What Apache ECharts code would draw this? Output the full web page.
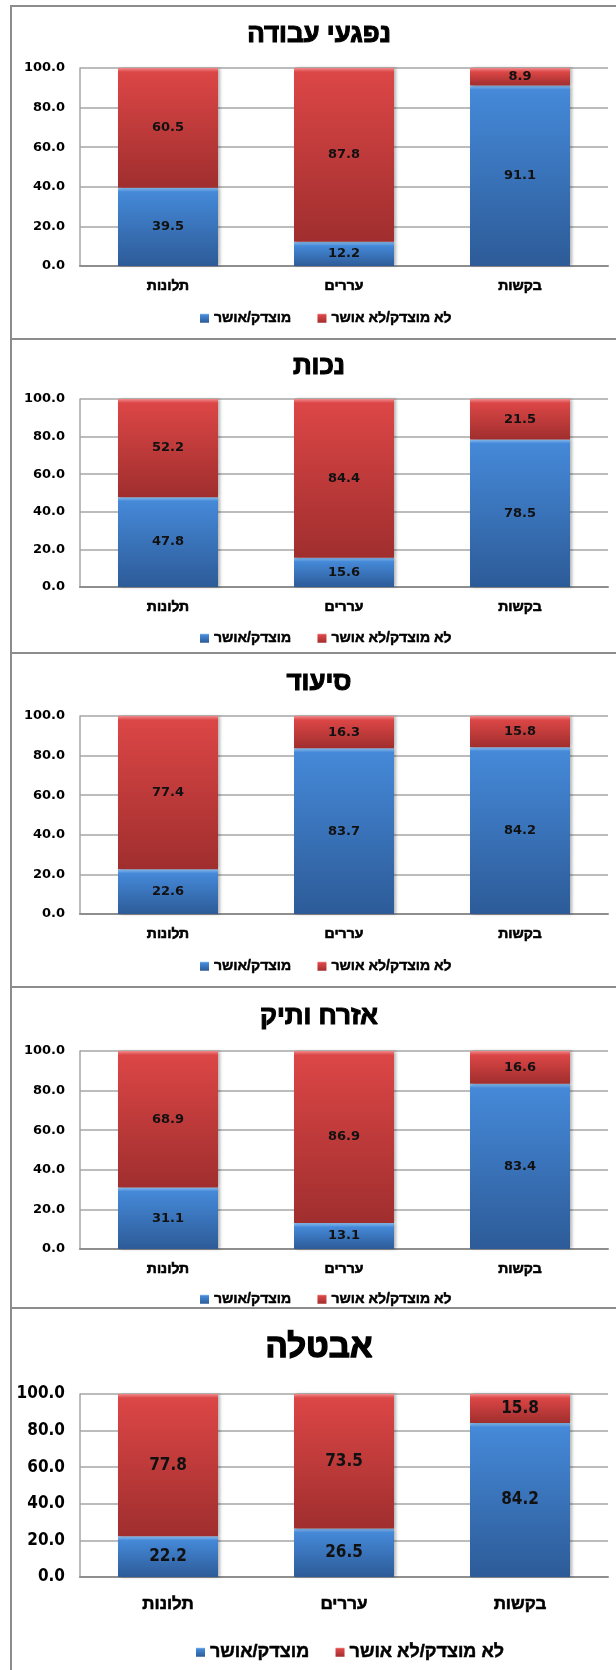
<!DOCTYPE html>
<html>
<head>
<meta charset="utf-8">
<script src="https://cdn.jsdelivr.net/npm/echarts@6/dist/echarts.min.js"></script>
<style>
  html, body { margin: 0; padding: 0; background: #fff; }
  #main { width: 616px; height: 1670px; }
</style>
</head>
<body>
<div id="main"></div>
<script>
// קטגוריות ומקרא
const categories = ['תלונות', 'עררים', 'בקשות'];
const seriesNames = ['מוצדק/אושר', 'לא מוצדק/לא אושר'];
const titles = ['נפגעי עבודה', 'נכות', 'סיעוד', 'אזרח ותיק', 'אבטלה'];
const yTicks = [0, 20, 40, 60, 80, 100];

// אחוזים לכל ענף
const workApproved = [39.5, 12.2, 91.1];
const workRejected = [60.5, 87.8, 8.9];
const disabilityApproved = [47.8, 15.6, 78.5];
const disabilityRejected = [52.2, 84.4, 21.5];
const nursingApproved = [22.6, 83.7, 84.2];
const nursingRejected = [77.4, 16.3, 15.8];
const seniorApproved = [31.1, 13.1, 83.4];
const seniorRejected = [68.9, 86.9, 16.6];
const unemploymentApproved = [22.2, 26.5, 84.2];
const unemploymentRejected = [77.8, 73.5, 15.8];

const approved = [workApproved, disabilityApproved, nursingApproved, seniorApproved, unemploymentApproved];
const rejected = [workRejected, disabilityRejected, nursingRejected, seniorRejected, unemploymentRejected];

// מיקומים בפיקסלים של כל לוח
const panels = [
  { top: 6, bottom: 339, title: 35, gridTop: 68, gridBottom: 266, legend: 315, big: false },
  { top: 339, bottom: 653, title: 367, gridTop: 399, gridBottom: 587, legend: 635, big: false },
  { top: 653, bottom: 987, title: 683, gridTop: 716, gridBottom: 914, legend: 963, big: false },
  { top: 987, bottom: 1308, title: 1017, gridTop: 1051, gridBottom: 1249, legend: 1296, big: false },
  { top: 1308, bottom: 1672, title: 1348, gridTop: 1394, gridBottom: 1577, legend: 1647, big: true }
];

const hebFont = '"Liberation Sans", "DejaVu Sans", Arial, sans-serif';
const numFont = '"DejaVu Sans", Tahoma, sans-serif';
const narrowFont = '"Liberation Sans Narrow", "DejaVu Sans Condensed", "Liberation Sans", sans-serif';

const palette = {
  blue: { hi: '#8cc0f2', top: '#4589d8', bottom: '#2d5b98' },
  red: { hi: '#f08a8a', top: '#dc4646', bottom: '#a02e2e' }
};

function grad(c, hiOffset) {
  return new echarts.graphic.LinearGradient(0, 0, 0, 1, [
    { offset: 0, color: c.hi },
    { offset: hiOffset, color: c.top },
    { offset: 1, color: c.bottom }
  ]);
}

function items(values, c, plotH) {
  return values.map(v => ({
    value: v,
    itemStyle: { color: grad(c, Math.min(0.5, 4 / (v / 100 * plotH))) }
  }));
}

// הדגשה לעברית (הגופן אינו מודגש מעצמו)
const heavy = w => ({ textBorderColor: '#000', textBorderWidth: w });

const option = {
  animation: false,
  title: [], legend: [], grid: [], xAxis: [], yAxis: [], series: [],
  graphic: []
};

panels.forEach((p, i) => {
  const plotH = p.gridBottom - p.gridTop;
  const numF = p.big ? narrowFont : numFont;
  const numSize = p.big ? 17 : 13;
  const catSize = p.big ? 17 : 14;

  option.title.push({
    text: titles[i],
    left: 319,
    textAlign: 'center',
    top: p.title - (p.big ? 17 : 13),
    padding: 0,
    textStyle: Object.assign({ fontFamily: hebFont, fontWeight: 'bold', fontSize: p.big ? 33 : 26, color: '#000' }, heavy(p.big ? 1.4 : 1.1))
  });

  option.legend.push({
    data: seriesNames,
    left: p.big ? 191 : 195,
    top: p.legend - 9,
    itemWidth: 9,
    itemHeight: 9,
    itemGap: 26,
    icon: 'rect',
    selectedMode: false,
    textStyle: Object.assign({ fontFamily: hebFont, fontWeight: 'bold', fontSize: p.big ? 18 : 14, color: '#000' }, heavy(0.5))
  });

  option.grid.push({
    left: 80, right: 8, top: p.gridTop, height: plotH
  });

  option.xAxis.push({
    type: 'category',
    gridIndex: i,
    data: categories,
    axisTick: { show: false },
    axisLine: { lineStyle: { color: '#8e8e8e', width: 2 } },
    axisLabel: Object.assign({
      margin: p.big ? 19 : 13,
      fontFamily: hebFont, fontWeight: 'bold', fontSize: catSize, color: '#000'
    }, heavy(0.6))
  });

  option.yAxis.push({
    type: 'value',
    gridIndex: i,
    min: yTicks[0],
    max: yTicks[yTicks.length - 1],
    interval: yTicks[1] - yTicks[0],
    axisLine: { show: true, lineStyle: { color: '#a6a6a6', width: 1.5 } },
    axisTick: { show: false },
    splitLine: { lineStyle: { color: '#a6a6a6', width: 1.5 } },
    axisLabel: {
      margin: 15,
      formatter: v => v.toFixed(1),
      fontFamily: numF, fontWeight: 'bold', fontSize: numSize, color: '#000'
    }
  });

  const label = {
    show: true,
    position: 'inside',
    formatter: d => d.value.toFixed(1),
    fontFamily: numF, fontWeight: 'bold', fontSize: numSize, color: '#111'
  };
  const shadow = { shadowColor: 'rgba(0,0,0,0.3)', shadowBlur: 3, shadowOffsetX: 2 };

  option.series.push({
    name: seriesNames[0],
    type: 'bar',
    stack: 'p' + i,
    xAxisIndex: i, yAxisIndex: i,
    barWidth: 100,
    itemStyle: Object.assign({ color: grad(palette.blue, 0.15) }, shadow),
    label,
    data: items(approved[i], palette.blue, plotH)
  });
  option.series.push({
    name: seriesNames[1],
    type: 'bar',
    stack: 'p' + i,
    xAxisIndex: i, yAxisIndex: i,
    barWidth: 100,
    itemStyle: Object.assign({ color: grad(palette.red, 0.15) }, shadow),
    label,
    data: items(rejected[i], palette.red, plotH)
  });

  // מסגרת הלוח
  option.graphic.push({
    type: 'rect',
    silent: true,
    z: -1,
    shape: { x: 11, y: p.top, width: 640, height: p.bottom - p.top },
    style: { fill: 'none', stroke: '#8c8c8c', lineWidth: 2 }
  });
});

const myChart = echarts.init(document.getElementById('main'), null, { renderer: 'canvas' });
myChart.setOption(option);
window.addEventListener('resize', () => { myChart.resize(); });
</script>
</body>
</html>
